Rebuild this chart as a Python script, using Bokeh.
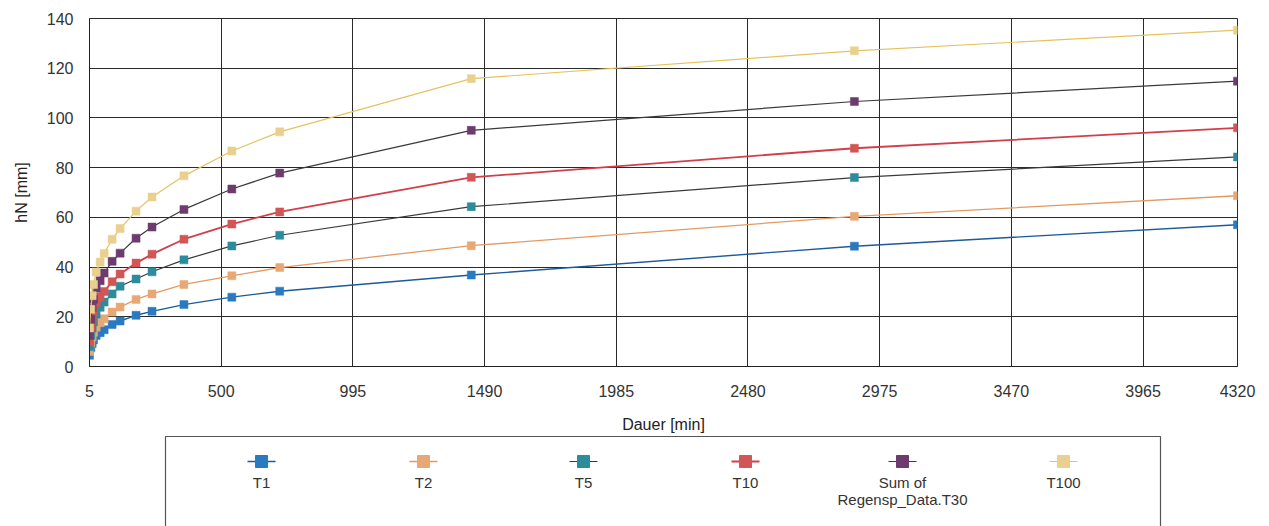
from bokeh.plotting import figure
from bokeh.layouts import column
from bokeh.models import Range1d, FixedTicker, ColumnDataSource
from bokeh.core.properties import value
from bokeh.embed import file_html
from bokeh.resources import INLINE

# ---- data ----
durations = [5, 10, 15, 20, 30, 45, 60, 90, 120, 180, 240, 360, 540, 720, 1440, 2880, 4320]
t1 = [4.5, 7.5, 9.3, 10.7, 12.5, 13.6, 14.8, 16.9, 18.3, 20.6, 22.2, 24.9, 27.9, 30.3, 36.8, 48.4, 57.0]
t2 = [6.0, 9.5, 12.0, 13.8, 15.8, 17.6, 19.2, 21.9, 23.9, 27.0, 29.2, 33.0, 36.5, 39.8, 48.6, 60.4, 68.7]
t5 = [8.0, 12.5, 15.5, 18.0, 21.0, 23.8, 25.9, 29.2, 32.3, 35.2, 38.1, 42.9, 48.5, 52.8, 64.3, 76.0, 84.3]
t10 = [10.0, 15.5, 19.0, 22.0, 25.5, 28.0, 30.2, 34.1, 37.2, 41.6, 45.2, 51.2, 57.3, 62.2, 76.1, 87.8, 96.0]
t30 = [12.5, 19.0, 23.5, 27.0, 31.5, 34.5, 37.6, 42.3, 45.6, 51.6, 56.1, 63.2, 71.4, 77.8, 95.0, 106.6, 114.8]
t100 = [15.5, 23.0, 28.5, 33.0, 38.0, 42.0, 45.5, 51.2, 55.5, 62.5, 68.2, 76.7, 86.7, 94.4, 115.8, 127.0, 135.3]

series_labels = ["T1", "T2", "T5", "T10", "Sum of\nRegensp_Data.T30", "T100"]
series_values = [t1, t2, t5, t10, t30, t100]
x_tick_values = [5, 500, 995, 1490, 1985, 2480, 2975, 3470, 3965, 4320]
y_tick_values = [0, 20, 40, 60, 80, 100, 120, 140]

marker_colors = ["#2a7ac0", "#e8a876", "#2b8d9c", "#d25656", "#6e3b6e", "#e9d08f"]
line_colors = ["#1c5a9a", "#e39a62", "#3a3a3a", "#d23f4a", "#3a3a3a", "#e6c25e"]
line_widths = [1.4, 1.3, 1.2, 1.8, 1.2, 1.2]

FONT = "Liberation Sans"
W = 1265
BL, BR = 89, 28          # frame left / right borders (px)

# ---- main chart ----
p = figure(width=W, height=435, x_range=Range1d(5, 4320), y_range=Range1d(0, 140),
           output_backend="svg", toolbar_location=None,
           min_border_left=BL, min_border_right=BR, min_border_top=18, min_border_bottom=66)

for vals, mc, lc, lw in zip(series_values, marker_colors, line_colors, line_widths):
    src = ColumnDataSource(dict(x=durations, y=vals))
    p.line("x", "y", source=src, line_color=lc, line_width=lw)
    p.scatter("x", "y", source=src, marker="square", size=8, fill_color=mc,
              line_color=mc, line_width=0.5)

p.xaxis.ticker = FixedTicker(ticks=x_tick_values)
p.yaxis.ticker = FixedTicker(ticks=y_tick_values)
for ax in (p.xaxis[0], p.yaxis[0]):
    ax.major_tick_line_color = None
    ax.minor_tick_line_color = None
    ax.axis_line_color = "#222222"
    ax.major_label_text_font = FONT
    ax.major_label_text_font_size = "16px"
    ax.major_label_text_color = "#333333"
    ax.axis_label_text_font = FONT
    ax.axis_label_text_font_size = "16px"
    ax.axis_label_text_font_style = "normal"
    ax.axis_label_text_color = "#222222"
p.xaxis.axis_label = "Dauer [min]"
p.yaxis.axis_label = "hN [mm]"
p.xaxis.major_label_standoff = 12
p.yaxis.major_label_standoff = 10
p.xaxis.axis_label_standoff = 16
p.yaxis.axis_label_standoff = 14

p.xgrid.ticker = FixedTicker(ticks=x_tick_values)
p.ygrid.ticker = FixedTicker(ticks=y_tick_values)
p.grid.grid_line_color = "#2a2a2a"
p.grid.grid_line_width = 1
p.outline_line_color = "#2a2a2a"
p.background_fill_color = "white"
p.border_fill_color = "white"

# ---- legend (custom, labels below symbols) ----
LH = 91
lg = figure(width=W, height=LH, x_range=Range1d(BL, W - BR), y_range=Range1d(LH, 0),
            output_backend="svg", toolbar_location=None,
            min_border_left=BL, min_border_right=BR, min_border_top=0, min_border_bottom=0)
lg.axis.visible = False
lg.grid.visible = False
lg.outline_line_color = None
lg.border_fill_color = "white"

# legend frame (open at the bottom, like the cropped reference)
lg.line(x=[165, 165, 1160, 1160], y=[LH + 20, 1, 1, LH + 20], line_color="#555555", line_width=1.2)

item_x = [261, 423, 583, 745, 902, 1063]
sym_y = 26
for xc, mc, lc, lw, lab in zip(item_x, marker_colors, line_colors, line_widths, series_labels):
    lg.line(x=[xc - 14, xc + 14], y=[sym_y, sym_y], line_color=lc, line_width=lw)
    lg.scatter(x=[xc], y=[sym_y], marker="square", size=12, fill_color=mc, line_color=mc)
    for i, t in enumerate(lab.split("\n")):
        lg.text(x=[xc], y=[38 + i * 17], text=[t], text_align="center", text_baseline="top",
                text_font=value(FONT), text_font_size="15px", text_color="#333333")

layout = column(p, lg, spacing=0)
open("out.html", "w").write(file_html(layout, INLINE))
